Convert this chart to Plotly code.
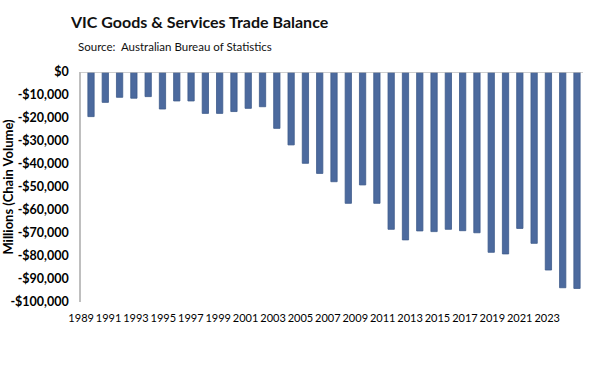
import plotly.graph_objects as go

years = list(range(1989, 2024))
balance = [-19400, -13200, -11000, -11400, -10700, -16100, -12600, -12600, -18000, -18000,
           -17200, -15800, -15100, -24500, -31700, -39700, -44100, -47700, -57100, -49100,
           -57100, -68400, -73000, -69100, -69400, -68400, -69000, -69900, -78400, -79100,
           -68000, -74500, -86100, -93800, -94100]
tick_years = list(range(1989, 2024, 2))
y_ticks = list(range(0, -100001, -10000))
y_labels = ["$0"] + ["-$" + f"{-v:,}" for v in y_ticks[1:]]

FONT = "Lato, Carlito, Calibri, 'Open Sans', sans-serif"

fig = go.Figure()
fig.add_trace(go.Bar(
    x=years, y=balance,
    marker=dict(color="#4C6A9E", line=dict(color="#3E5A8A", width=0.8)),
    width=0.44, hoverinfo="x+y",
))
# invisible carrier for the label axis
fig.add_trace(go.Scatter(x=years, y=balance, xaxis="x2", mode="markers",
                         marker=dict(opacity=0), hoverinfo="skip", showlegend=False))

fig.update_layout(
    width=602, height=388,
    paper_bgcolor="white", plot_bgcolor="white",
    margin=dict(l=81, r=19, t=72, b=86),
    showlegend=False,
    font=dict(family=FONT, color="#000000"),
    title=dict(text="<b>VIC Goods & Services Trade Balance</b>", x=71/602, xanchor="left",
               y=1-22/388, yanchor="middle", font=dict(size=16, family=FONT, color="#111")),
    annotations=[dict(text="Source:  Australian Bureau of Statistics", xref="paper", yref="paper",
                      x=-5/502, y=1+(72-46)/230, xanchor="left", yanchor="middle",
                      showarrow=False, font=dict(size=11.5, family=FONT, color="#111"))],
    xaxis=dict(range=[1988.3, 2023.42], showticklabels=False, showline=False,
               showgrid=False, zeroline=False, ticks="", automargin=False),
    xaxis2=dict(overlaying="x", side="bottom", anchor="y",
                range=[1988.99, 1989 + 502/13.71], tickmode="array", tickvals=tick_years,
                ticktext=[str(t) for t in tick_years], showline=False, showgrid=False,
                zeroline=False, ticks="", ticklabelstandoff=8, tickangle=0, automargin=False,
                tickfont=dict(size=11, family=FONT, color="#000")),
)
fig.update_yaxes(
    range=[-100000, 0], tickvals=y_ticks, ticktext=["<b>" + t + "</b>" for t in y_labels],
    showgrid=False, zeroline=False, showline=True, linecolor="#BFBFBF", linewidth=1.5,
    ticks="", automargin=False, ticklabelstandoff=8,
    tickfont=dict(size=12.5, family=FONT, color="#000"),
    title=dict(text="<b>Millions (Chain Volume)</b>", font=dict(size=13, family=FONT, color="#000"),
               standoff=4),
)
fig.add_hline(y=0, line=dict(color="#BFBFBF", width=1.5), layer="above")

fig.write_html("out.html", config={"displayModeBar": False},
               post_script="document.body.style.margin='0';")
